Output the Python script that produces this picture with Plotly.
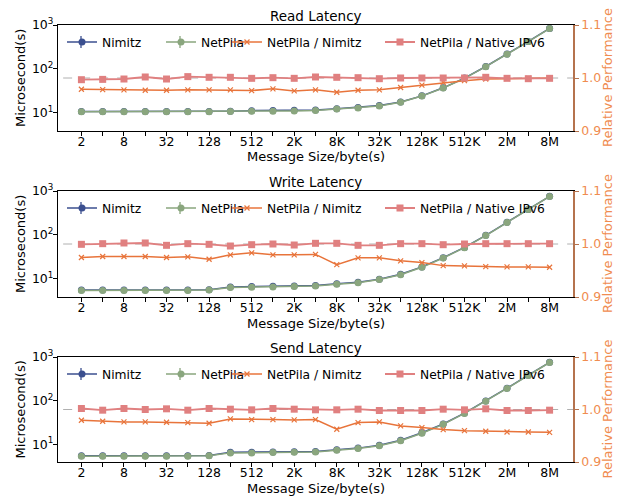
import plotly.graph_objects as go

sizes = ["2", "4", "8", "16", "32", "64", "128", "256", "512", "1K", "2K", "4K",
         "8K", "16K", "32K", "64K", "128K", "256K", "512K", "1M", "2M", "4M", "8M"]
tick_labels = [s if i % 2 == 0 else "" for i, s in enumerate(sizes)]

read_nimitz = [10.8, 10.8, 10.8, 10.8, 10.8, 10.8, 10.8, 11.0, 11.3, 11.4, 11.5, 11.7,
               12.5, 13.3, 14.7, 17.8, 24.5, 37.3, 62, 114, 218, 424, 836]
read_netpila = [10.7, 10.7, 10.7, 10.7, 10.7, 10.7, 10.7, 10.8, 10.9, 11.0, 11.1, 11.4,
                12.3, 13.0, 14.4, 17.5, 24.2, 37.0, 61, 113, 216, 420, 830]
read_ratio_nimitz = [0.9788, 0.9782, 0.9776, 0.9769, 0.9769, 0.9776, 0.9776, 0.9776, 0.9763,
                     0.9795, 0.9756, 0.9776, 0.9731, 0.9769, 0.9776, 0.9821, 0.9865, 0.9917,
                     0.9949, 0.9981, 0.9987, 0.9994, 1.0]
read_ratio_native = [0.9968, 0.9974, 0.9981, 1.0019, 0.9981, 1.0026, 1.0013, 1.0013, 0.9994,
                     1.0006, 0.9994, 1.0019, 1.0013, 1.0006, 0.9987, 1.0, 1.0, 1.0, 1.0,
                     1.0013, 0.9994, 0.9987, 0.9994]

write_nimitz = [5.6, 5.6, 5.6, 5.6, 5.6, 5.6, 5.7, 6.6, 6.7, 6.8, 6.9, 7.1,
                7.8, 8.4, 9.9, 12.8, 18.8, 30.5, 52.2, 98, 194, 382, 758]
write_netpila = [5.5, 5.5, 5.5, 5.5, 5.5, 5.5, 5.6, 6.4, 6.5, 6.6, 6.7, 6.9,
                 7.6, 8.2, 9.7, 12.5, 18.4, 30.0, 51.5, 97, 192, 378, 752]
write_ratio_nimitz = [0.9745, 0.9764, 0.9764, 0.9764, 0.9745, 0.9758, 0.9713, 0.9796, 0.9834,
                      0.9796, 0.9796, 0.9803, 0.9611, 0.9739, 0.9739, 0.9682, 0.9650, 0.9592,
                      0.9586, 0.9573, 0.9567, 0.9567, 0.9561]
write_ratio_native = [0.9994, 1.0006, 1.0019, 1.0019, 0.9975, 1.0006, 0.9994, 0.9962, 0.9987,
                      1.0, 0.9981, 1.0013, 1.0013, 0.9975, 0.9975, 1.0006, 1.0006, 0.9987,
                      1.0, 1.0006, 1.0006, 1.0006, 1.0006]

send_nimitz = [5.4, 5.4, 5.4, 5.4, 5.4, 5.4, 5.5, 6.5, 6.5, 6.6, 6.7, 6.8,
               7.4, 8.1, 9.4, 12.3, 18.2, 29.0, 51.5, 98, 193, 383, 756]
send_netpila = [5.3, 5.3, 5.3, 5.3, 5.3, 5.3, 5.4, 6.3, 6.3, 6.4, 6.5, 6.6,
                7.2, 7.9, 9.2, 12.0, 17.8, 28.5, 50.8, 97, 190, 378, 748]
send_ratio_nimitz = [0.9796, 0.9776, 0.9764, 0.9764, 0.9757, 0.9751, 0.9738, 0.9821, 0.9808,
                     0.9808, 0.9802, 0.9808, 0.9623, 0.9751, 0.9764, 0.9687, 0.9655, 0.9617,
                     0.9597, 0.9585, 0.9572, 0.9572, 0.9565]
send_ratio_native = [1.0019, 0.9987, 1.0019, 1.0, 1.0013, 0.9987, 1.0019, 1.0006, 0.9994,
                     1.0019, 1.0006, 0.9994, 0.9994, 1.0006, 0.9981, 0.9981, 0.9981, 1.0006,
                     0.9994, 1.0013, 0.9981, 0.9981, 0.9987]

panels = [
    ("Read Latency", read_nimitz, read_netpila, read_ratio_nimitz, read_ratio_native),
    ("Write Latency", write_nimitz, write_netpila, write_ratio_nimitz, write_ratio_native),
    ("Send Latency", send_nimitz, send_netpila, send_ratio_nimitz, send_ratio_native),
]

W, H = 618, 497
X0, X1 = 58, 573
panel_px = [(25, 131), (191, 297), (357, 462)]
legend_x_px = [62, 161, 227, 380]

C_NIM = "#3b4f8f"
C_NET = "#8aa67e"
C_ORG = "#e8743b"
C_PNK = "#e08080"
C_RAX = "#f08c50"
C_RSP = "#b5734e"
FONT = "DejaVu Sans"

fig = go.Figure()
layout = dict(
    width=W, height=H, margin=dict(l=0, r=0, t=0, b=0),
    paper_bgcolor="white", plot_bgcolor="white", showlegend=True,
    font=dict(family=FONT, size=12, color="black"),
    annotations=[], shapes=[],
)

xidx = list(range(len(sizes)))
for p, (title, nim, net, rn, rv) in enumerate(panels):
    top, bot = panel_px[p]
    ydom = [1 - bot / H, 1 - top / H]
    xa = "x" if p == 0 else f"x{p+1}"
    ya_l = f"y{2*p+1}" if p else "y"
    ya_r = f"y{2*p+2}"
    lgs = []
    for k in range(4):
        n = 4 * p + k + 1
        lgs.append("legend" if n == 1 else f"legend{n}")

    fig.add_trace(go.Scatter(x=xidx, y=nim, name="Nimitz", mode="lines+markers",
                             line=dict(color=C_NIM, width=1.5),
                             marker=dict(symbol="circle", size=7, color=C_NIM),
                             xaxis=xa, yaxis=ya_l, legend=lgs[0], showlegend=True))
    fig.add_trace(go.Scatter(x=xidx, y=net, name="NetPila", mode="lines+markers",
                             line=dict(color=C_NET, width=1.5),
                             marker=dict(symbol="circle", size=7, color=C_NET),
                             xaxis=xa, yaxis=ya_l, legend=lgs[1], showlegend=True))
    fig.add_trace(go.Scatter(x=xidx, y=rn, name="NetPila / Nimitz", mode="lines+markers",
                             line=dict(color=C_ORG, width=1.5),
                             marker=dict(symbol="x-thin", size=5, color=C_ORG,
                                         line=dict(color=C_ORG, width=1.2)),
                             xaxis=xa, yaxis=ya_r, legend=lgs[2], showlegend=True))
    fig.add_trace(go.Scatter(x=xidx, y=rv, name="NetPila / Native IPv6", mode="lines+markers",
                             line=dict(color=C_PNK, width=1.8),
                             marker=dict(symbol="square", size=7, color=C_PNK),
                             xaxis=xa, yaxis=ya_r, legend=lgs[3], showlegend=True))

    xkey = "xaxis" if p == 0 else f"xaxis{p+1}"
    ykey_l = "yaxis" if p == 0 else f"yaxis{2*p+1}"
    ykey_r = f"yaxis{2*p+2}"
    layout[xkey] = dict(
        domain=[X0 / W, X1 / W], anchor=ya_l, range=[-1.1, 23.1],
        tickmode="array", tickvals=xidx, ticktext=tick_labels,
        ticks="outside", ticklen=4, tickcolor="black", showgrid=False, zeroline=False,
        showline=True, linecolor="black", linewidth=1.2, mirror=True,
        tickfont=dict(size=12.5, color="black"), automargin=False, ticklabelstandoff=-5,
    )
    layout[ykey_l] = dict(
        domain=ydom, anchor=xa, type="log", range=[0.59, 3],
        tickmode="array", tickvals=[10, 100, 1000],
        ticktext=["10<sup>1</sup>", "10<sup>2</sup>", "10<sup>3</sup>"],
        ticks="outside", ticklen=4, tickcolor="black", showgrid=False, zeroline=False,
        showline=True, linecolor="black", linewidth=1.2,
        tickfont=dict(size=12.5, color="black"), automargin=False, ticklabelstandoff=-3,
    )
    layout[ykey_r] = dict(
        domain=ydom, anchor=xa, overlaying=ya_l, side="right", range=[0.9, 1.1],
        tickmode="array", tickvals=[0.9, 1.0, 1.1], ticktext=["0.9", "1.0", "1.1"],
        ticks="outside", ticklen=4, tickcolor=C_RSP, showgrid=False, zeroline=False,
        showline=True, linecolor=C_RSP, linewidth=1.5,
        tickfont=dict(size=12.5, color=C_RAX), automargin=False,
    )
    ly = 1 - (top + 17) / H
    for k in range(4):
        layout[lgs[k]] = dict(
            orientation="h", x=legend_x_px[k] / W, y=ly,
            xanchor="left", yanchor="middle", visible=True,
            bgcolor="rgba(0,0,0,0)", font=dict(size=12.3, family=FONT), itemwidth=30,
        )
    # error-bar style vertical ticks in the legend handles of Nimitz and NetPila
    for k, col in ((0, C_NIM), (1, C_NET)):
        cxp = (legend_x_px[k] + 19) / W
        layout["shapes"].append(dict(type="line", xref="paper", yref="paper",
                                     x0=cxp, x1=cxp, y0=ly - 6 / H, y1=ly + 6 / H,
                                     line=dict(color=col, width=1.3)))
    layout["shapes"].append(dict(type="line", xref=f"{xa} domain", yref=ya_r,
                                 x0=0.01, x1=1.0, y0=1.0, y1=1.0,
                                 line=dict(color="#b0b0b0", width=1, dash="dash"), layer="below"))
    cx = (X0 + X1) / 2 / W
    layout["annotations"] += [
        dict(text=title, x=cx, y=1 - (top - 9) / H, xref="paper", yref="paper",
             showarrow=False, font=dict(size=13.5), xanchor="center", yanchor="middle"),
        dict(text="Message Size/byte(s)", x=cx, y=1 - (bot + 26) / H, xref="paper", yref="paper",
             showarrow=False, font=dict(size=13), xanchor="center", yanchor="middle"),
        dict(text="Microsecond(s)", x=20 / W, y=1 - (top + bot) / 2 / H, xref="paper", yref="paper",
             showarrow=False, font=dict(size=13), textangle=-90, xanchor="center", yanchor="middle"),
        dict(text="Relative Performance", x=607 / W, y=1 - (top + bot) / 2 / H, xref="paper",
             yref="paper", showarrow=False, font=dict(size=13, color=C_RAX), textangle=-90,
             xanchor="center", yanchor="middle"),
    ]

fig.update_layout(**layout)
fig.write_html("out.html", config={"displayModeBar": False},
               post_script="document.body.style.margin='0';document.body.style.padding='0';")
